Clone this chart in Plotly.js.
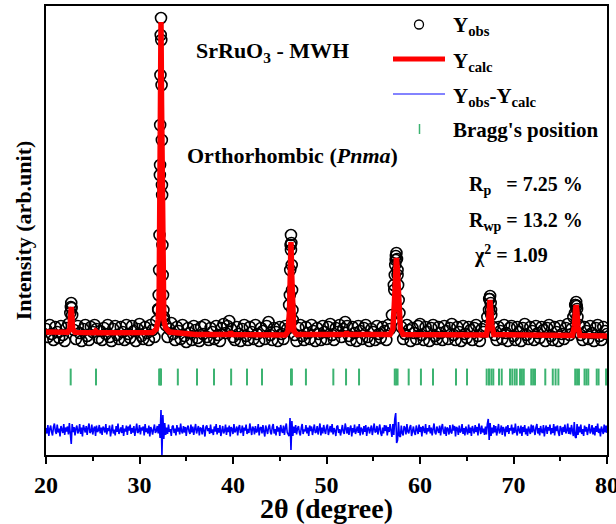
<!DOCTYPE html>
<html><head><meta charset="utf-8">
<script src="https://cdn.plot.ly/plotly-3.0.1.min.js"></script>
<style>html,body{margin:0;padding:0;background:#fff}#chart{width:616px;height:524px}</style>
</head><body><div id="chart"></div>
<script>
// ---- Observed intensity, 0.2 deg grid from 20.0 to 80.0 (arb. units) ----
const OBS_START = 20.0, OBS_STEP = 0.2;
const obsGrid = [
1260,1180,1300,1210,1150,1280,1230,1170,1290,1200,1140,1270,1310,1420,1400,1250,1160,1290,1220,1140,1260,1300,1190,1150,1280,1230,1300,1260,1170,1240,
1150,1270,1210,1300,1180,1140,1260,1290,1200,1160,1280,1230,1150,1300,1210,1170,1290,1240,1140,1260,1310,1190,1160,1280,1220,1150,1300,1250,1180,1340,
1460,2900,2700,1380,1300,1180,1260,1320,1210,1150,1280,1240,1160,1300,1190,1130,1270,1220,1150,1290,1250,1170,1140,1280,1210,1300,1180,1150,1270,1230,
1160,1290,1200,1140,1270,1310,1220,1290,1340,1260,1180,1150,1280,1210,1140,1260,1300,1190,1150,1280,1230,1160,1300,1210,1140,1270,1240,1160,1290,1330,
1200,1150,1270,1230,1140,1280,1210,1160,1290,1260,1500,2050,1350,1200,1140,1270,1300,1190,1150,1280,1220,1160,1300,1240,1140,1270,1210,1150,1290,1230,
1160,1280,1310,1200,1150,1270,1230,1300,1180,1260,1330,1290,1190,1150,1280,1220,1140,1290,1240,1160,1270,1300,1180,1140,1260,1230,1150,1290,1210,1170,
1280,1240,1150,1300,1260,1400,1700,1950,1800,1420,1280,1160,1210,1300,1250,1140,1270,1220,1160,1290,1310,1200,1150,1280,1230,1140,1270,1300,1190,1160,
1280,1220,1150,1290,1240,1160,1270,1310,1200,1150,1280,1230,1140,1290,1210,1170,1280,1250,1150,1270,1300,1190,1140,1260,1230,1290,1380,1560,1450,1280,
1200,1150,1280,1240,1160,1300,1220,1140,1270,1290,1190,1150,1280,1230,1140,1270,1310,1200,1160,1280,1240,1150,1290,1220,1170,1280,1250,1140,1270,1300,
1190,1150,1280,1230,1140,1290,1210,1160,1270,1310,1200,1260,1380,1500,1460,1300,1200,1150,1280,1240,1160,1290,1220,1140,1270,1300,1190,1150,1280,1240,1210
];
// ---- Extra observed points on the Bragg peaks (finer steps) ----
const peakObsX = [22.66,22.70,22.74,
  32.00,32.05,32.10,32.14,32.18,32.21,32.24,32.27,32.30,32.33,32.36,32.39,32.42,32.45,32.48,32.52,32.56,32.62,
  46.08,46.12,46.16,46.20,46.24,46.28,46.32,46.36,
  57.25,57.30,57.35,57.42,57.48,57.54,57.60,57.66,57.72,
  67.38,67.44,67.50,67.56,67.62,
  76.58,76.64,76.70,76.76,76.84];
const peakObsY = [1480,1520,1470,
  1450,1600,1850,2200,2800,3300,3800,4200,4370,4150,3700,3150,2600,2100,1800,1600,1450,1350,
  1600,1850,2100,2200,2120,1900,1650,1450,
  1650,1800,1900,1990,2020,1960,1850,1700,1550,
  1450,1560,1590,1520,1400,
  1420,1500,1530,1490,1380];

// ---- Calculated profile ----
const calcX = [20,22.3,22.55,22.65,22.7,22.75,22.85,23.1,25.1,25.3,25.5,31.4,31.8,32.0,32.1,32.18,32.24,32.3,32.36,32.42,32.5,32.6,32.8,33.2,
  36.0,39.6,39.75,39.9,45.6,45.9,46.05,46.12,46.2,46.28,46.35,46.5,46.8,52.0,52.15,52.3,56.8,57.1,57.25,57.38,57.48,57.58,57.72,57.9,58.2,
  67.1,67.3,67.42,67.48,67.55,67.68,67.9,76.3,76.5,76.63,76.7,76.77,76.9,77.1,80];
const calcY = [1230,1228,1260,1420,1480,1420,1260,1226,1222,1240,1222,1225,1260,1350,1550,2300,3500,4330,3500,2300,1550,1350,1270,1230,
  1205,1205,1230,1205,1200,1240,1450,1800,2130,1800,1450,1240,1205,1205,1230,1205,1205,1260,1500,1850,1970,1850,1500,1260,1205,
  1200,1300,1480,1550,1480,1300,1205,1195,1280,1450,1500,1450,1280,1195,1190];

// ---- Difference Yobs - Ycalc, 0.1 deg grid from 20.0 to 80.0 ----
const DIFF_START = 20.0, DIFF_STEP = 0.1, DIFF_OFFSET = 250;
const diffVals = [
20,-35,50,-60,10,45,-20,-55,30,65,-10,-40,55,-25,15,-65,40,5,-30,60,-50,25,-15,35,-45,70,-5,-140,60,-20,
30,-55,15,45,-35,-10,60,-40,25,-65,50,5,-25,40,-50,20,65,-30,-15,55,-45,10,35,-60,45,-20,-5,50,-35,25,
-50,35,15,-25,60,-45,20,-10,45,-65,30,55,-35,5,-55,40,-20,65,-40,10,25,-30,50,-60,15,-15,45,-50,35,-5,
55,-40,20,-25,40,-60,10,65,-30,-15,50,-45,25,-5,35,-55,60,-20,15,-35,45,-65,30,5,-45,20,55,-30,-10,40,
-35,60,-80,200,-250,150,-90,70,-50,25,-40,55,-20,10,-60,35,45,-30,15,-55,50,-15,25,-45,65,-10,-35,40,-25,30,
-60,20,45,-15,-40,55,-25,35,-50,10,60,-35,-5,40,-55,25,15,-45,50,-20,-65,30,45,-10,20,-40,55,-30,5,-50,
35,-15,60,-45,20,-25,50,-60,15,40,-35,-10,55,-50,25,-20,45,-65,30,10,-40,60,-25,-5,35,-55,20,50,-30,-15,
45,-60,25,-5,55,-40,10,-30,65,-20,-50,35,15,-45,40,-25,-10,60,-55,20,30,-35,50,-15,-65,45,5,-40,25,55,
-20,-45,30,60,-35,10,-55,40,-15,25,-60,50,-5,-30,45,-50,20,65,-25,-40,-60,120,-200,90,-60,35,-30,50,-45,15,
40,-25,-55,20,60,-40,5,-15,50,-35,25,-60,45,-10,35,-50,15,55,-30,-20,40,-45,10,65,-55,25,-35,50,-5,-40,
30,55,-50,-15,40,-25,60,-45,20,-5,-60,35,45,-30,10,-55,25,50,-20,-40,65,-10,-35,30,-50,15,45,-65,20,-25,
55,-40,-10,35,-30,60,-55,25,5,-45,40,-20,50,-60,15,30,-35,-5,45,-50,20,65,-25,-15,40,-45,10,55,-30,-60,
25,-35,50,-10,45,-55,30,-20,60,-40,-70,60,-50,110,170,-130,-100,80,-60,-70,45,-30,-55,40,20,-45,60,-15,-35,25,
50,-60,15,35,-25,-50,45,5,-40,55,-20,30,-65,40,-10,-30,60,-45,20,-15,50,-35,25,-55,10,65,-25,-45,35,-5,
-30,45,-55,20,60,-15,-40,35,-60,25,10,-45,50,-20,-35,55,-5,40,-65,30,15,-50,45,-25,-10,60,-40,20,-55,35,
5,-45,55,-30,25,-60,40,-15,-35,50,-20,30,-55,65,-10,-40,45,-25,15,-50,35,-45,60,110,-100,70,-60,25,-35,50,
-25,40,-55,15,60,-35,-10,45,-50,30,5,-65,35,-20,50,-40,20,-5,55,-45,25,-30,65,-15,-55,40,10,-35,45,-60,
30,-20,50,-45,15,-60,35,5,-40,55,-25,45,-10,-50,25,60,-35,20,-55,40,-15,-30,50,-65,10,45,-40,30,-5,55,
-45,20,-30,60,-55,35,-10,45,-25,-60,40,15,-50,30,-20,55,-35,-5,65,-40,25,-45,50,-15,-60,80,-70,-80,60,-50,
35,-25,55,-40,10,-60,45,-15,30,-50,20,60,-35,-10,50,-45,25,-55,40,-20,65,-30,15,-65,35,5,-40,55,-25,45,
-30
];

// ---- Bragg reflection positions (deg) ----
const braggPos = [22.64,25.35,32.1,32.2,32.3,34.1,36.15,37.97,39.8,41.5,43.1,46.2,46.3,47.8,50.73,52.09,53.48,
  57.3,57.45,57.6,58.79,60.1,61.39,63.85,65.03,67.13,67.38,67.63,67.84,68.45,68.74,69.63,69.87,70.13,70.34,
  70.7,70.9,71.1,71.9,72.1,72.3,73.4,74.2,74.5,74.8,76.6,76.8,77.0,77.6,77.8,78.0,78.9,79.1,79.9];
const BRAGG_LEVEL = 780;

const xTickVals = [20,30,40,50,60,70,80];
const xTickText = ['20','30','40','50','60','70','80'];
const legendNames = ['Y<sub>obs</sub>','Y<sub>calc</sub>','Y<sub>obs</sub>-Y<sub>calc</sub>',"Bragg's position"];

// ---- Build traces ----
const obsX = obsGrid.map((_, i) => +(OBS_START + OBS_STEP * i).toFixed(2)).concat(peakObsX);
const obsY = obsGrid.concat(peakObsY);
const diffX = diffVals.map((_, i) => +(DIFF_START + DIFF_STEP * i).toFixed(2));
const diffY = diffVals.map(v => v + DIFF_OFFSET);

const FONT = 'Liberation Serif, Times New Roman, serif';
const OBS_COLOR = '#000', CALC_COLOR = '#ff0000', DIFF_COLOR = '#0000ff', BRAGG_COLOR = '#3cb371';

const traces = [
  {x: obsX, y: obsY, type: 'scatter', mode: 'markers', name: legendNames[0],
   marker: {symbol: 'circle-open', size: 11, color: OBS_COLOR, line: {width: 1.6, color: OBS_COLOR}}},
  {x: calcX, y: calcY, type: 'scatter', mode: 'lines', name: legendNames[1],
   line: {color: CALC_COLOR, width: 5.5}},
  {x: diffX, y: diffY, type: 'scatter', mode: 'lines', name: legendNames[2],
   line: {color: DIFF_COLOR, width: 1.6}},
  {x: braggPos, y: braggPos.map(() => BRAGG_LEVEL), type: 'scatter', mode: 'markers', name: legendNames[3],
   marker: {symbol: 'line-ns-open', size: 12, color: BRAGG_COLOR, line: {width: 2, color: BRAGG_COLOR}}}
];

// paper-coordinate helpers (plot area: x 46..607 px, y 6..455 px)
const PX = p => (p - 46) / 561;
const PY = p => (455 - p) / 449;

const txt = {family: FONT, size: 20, color: '#000', weight: 'bold'};
const big = {family: FONT, size: 22, color: '#000', weight: 'bold'};
const leg = {family: FONT, size: 21, color: '#000', weight: 'bold'};

// legend rows (key drawn as shapes, label as annotation)
const legendRowsY = [26, 62, 97, 130];
const legendTextX = 451;

const shapes = [
  {type: 'circle', xref: 'paper', yref: 'paper', x0: PX(414.5), x1: PX(423.5), y0: PY(29), y1: PY(20),
   line: {color: OBS_COLOR, width: 1.3}, fillcolor: 'rgba(0,0,0,0)'},
  {type: 'line', xref: 'paper', yref: 'paper', x0: PX(393), x1: PX(445), y0: PY(59), y1: PY(59),
   line: {color: CALC_COLOR, width: 5}},
  {type: 'line', xref: 'paper', yref: 'paper', x0: PX(393), x1: PX(445), y0: PY(94), y1: PY(94),
   line: {color: '#5a5aff', width: 1.5}},
  {type: 'line', xref: 'paper', yref: 'paper', x0: PX(419.5), x1: PX(419.5), y0: PY(124), y1: PY(134),
   line: {color: BRAGG_COLOR, width: 1.5}}
];

const annotations = legendNames.map((n, i) => ({
  xref: 'paper', yref: 'paper', x: PX(legendTextX), y: PY(legendRowsY[i]), xanchor: 'left', yanchor: 'middle',
  showarrow: false, text: n, font: leg}));

annotations.push(
  {xref: 'paper', yref: 'paper', x: PX(194), y: PY(52), xanchor: 'left', yanchor: 'middle', showarrow: false,
   text: 'SrRuO<sub>3</sub> - MWH', font: big},
  {xref: 'paper', yref: 'paper', x: PX(185), y: PY(155), xanchor: 'left', yanchor: 'middle', showarrow: false,
   text: 'Orthorhombic (<i>Pnma</i>)', font: big},
  {xref: 'paper', yref: 'paper', x: PX(467), y: PY(185), xanchor: 'left', yanchor: 'middle', showarrow: false,
   text: 'R<sub>p</sub>   = 7.25 %', font: txt},
  {xref: 'paper', yref: 'paper', x: PX(467), y: PY(221), xanchor: 'left', yanchor: 'middle', showarrow: false,
   text: 'R<sub>wp</sub> = 13.2 %', font: txt},
  {xref: 'paper', yref: 'paper', x: PX(472), y: PY(255), xanchor: 'left', yanchor: 'middle', showarrow: false,
   text: 'χ<sup>2</sup> = 1.09', font: txt}
);

const layout = {
  width: 616, height: 524,
  margin: {l: 46, r: 9, t: 6, b: 69},
  paper_bgcolor: '#fff', plot_bgcolor: '#fff',
  showlegend: false,
  xaxis: {range: [20, 80], tickvals: xTickVals, ticktext: xTickText, ticks: 'outside', ticklen: 7, tickwidth: 2, tickcolor: '#000',
    ticklabeloverflow: 'allow',
    minor: {dtick: 5, tick0: 20, ticks: 'outside', ticklen: 4, tickwidth: 2, tickcolor: '#000', showgrid: false},
    showline: true, linewidth: 2, linecolor: '#000', mirror: true, showgrid: false, zeroline: false,
    tickfont: {family: FONT, size: 24, color: '#000', weight: 'bold'},
    title: {text: '2θ (degree)', font: {family: FONT, size: 28, color: '#000', weight: 'bold'}, standoff: 0}},
  yaxis: {range: [0, 4490], showticklabels: false, ticks: '', showline: true, linewidth: 2, linecolor: '#000',
    mirror: true, showgrid: false, zeroline: false,
    title: {text: 'Intensity (arb.unit)', font: {family: FONT, size: 22, color: '#000', weight: 'bold'}, standoff: 6}},
  shapes: shapes,
  annotations: annotations
};

Plotly.newPlot('chart', traces, layout, {displayModeBar: false, responsive: false});
</script>
</body></html>
